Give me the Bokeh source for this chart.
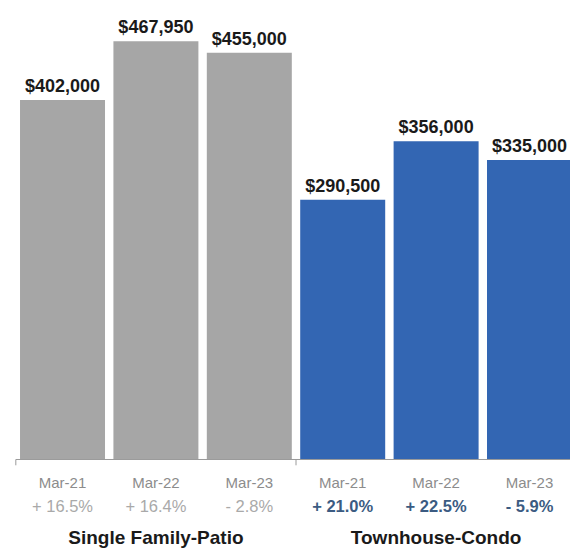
from bokeh.plotting import figure
from bokeh.models import ColumnDataSource, Range1d
from bokeh.core.properties import value
from bokeh.embed import file_html
from bokeh.resources import INLINE

# ---- data ----
groups = ["Single Family-Patio", "Townhouse-Condo"]
periods = ["Mar-21", "Mar-22", "Mar-23", "Mar-21", "Mar-22", "Mar-23"]
prices = [402000, 467950, 455000, 290500, 356000, 335000]
price_labels = ["$402,000", "$467,950", "$455,000", "$290,500", "$356,000", "$335,000"]
changes = ["+ 16.5%", "+ 16.4%", "- 2.8%", "+ 21.0%", "+ 22.5%", "- 5.9%"]
group_of_bar = [0, 0, 0, 1, 1, 1]

bar_colors = ["#a6a6a6", "#3366b3"]
pct_colors = ["#a9a9a9", "#3b5b82"]
pct_styles = ["normal", "bold"]

xs = list(range(len(prices)))
src = ColumnDataSource(dict(
    x=xs,
    price=prices,
    plabel=price_labels,
    period=periods,
    change=changes,
    color=[bar_colors[g] for g in group_of_bar],
    pcolor=[pct_colors[g] for g in group_of_bar],
    pstyle=[pct_styles[g] for g in group_of_bar],
))

gsrc = ColumnDataSource(dict(
    x=[1, 4],
    name=groups,
))

W, H = 570, 548
p = figure(width=W, height=H, output_backend="svg", toolbar_location=None,
           x_range=Range1d(-0.664, 5.439), y_range=Range1d(-99550, 513400),
           x_axis_type=None, y_axis_type=None, min_border=0,
           background_fill_color="white", border_fill_color="white")
p.outline_line_color = None
p.grid.visible = False

p.vbar(x="x", top="price", bottom=0, width=0.91, fill_color="color",
       line_color=None, source=src)

# baseline axis
p.segment(x0=[-0.5], y0=[0], x1=[5.6], y1=[0], line_color="#9a9a9a", line_width=1)
p.segment(x0=[-0.5, 2.5], y0=[0, 0], x1=[-0.5, 2.5], y1=[-6500, -6500],
          line_color="#9a9a9a", line_width=1)

# value labels
p.text(x="x", y="price", text="plabel", source=src, text_align="center",
       text_baseline="alphabetic", y_offset=-14,
       text_font=value("Liberation Sans"), text_font_size="18px",
       text_font_style="bold", text_color="#1a1a1a")

# period labels
p.text(x="x", y=0, text="period", source=src, text_align="center",
       text_baseline="alphabetic", y_offset=23,
       text_font=value("Liberation Sans"), text_font_size="15px",
       text_color="#8c8c8c")

# change labels
p.text(x="x", y=0, text="change", source=src, text_align="center",
       text_baseline="alphabetic", y_offset=47,
       text_font=value("Liberation Sans"), text_font_size="16.5px",
       text_font_style="pstyle", text_color="pcolor")

# group titles
p.text(x="x", y=0, text="name", source=gsrc, text_align="center",
       text_baseline="alphabetic", y_offset=78,
       text_font=value("Liberation Sans"), text_font_size="19px",
       text_font_style="bold", text_color="#1a1a1a")

open("out.html", "w").write(file_html(p, INLINE))
